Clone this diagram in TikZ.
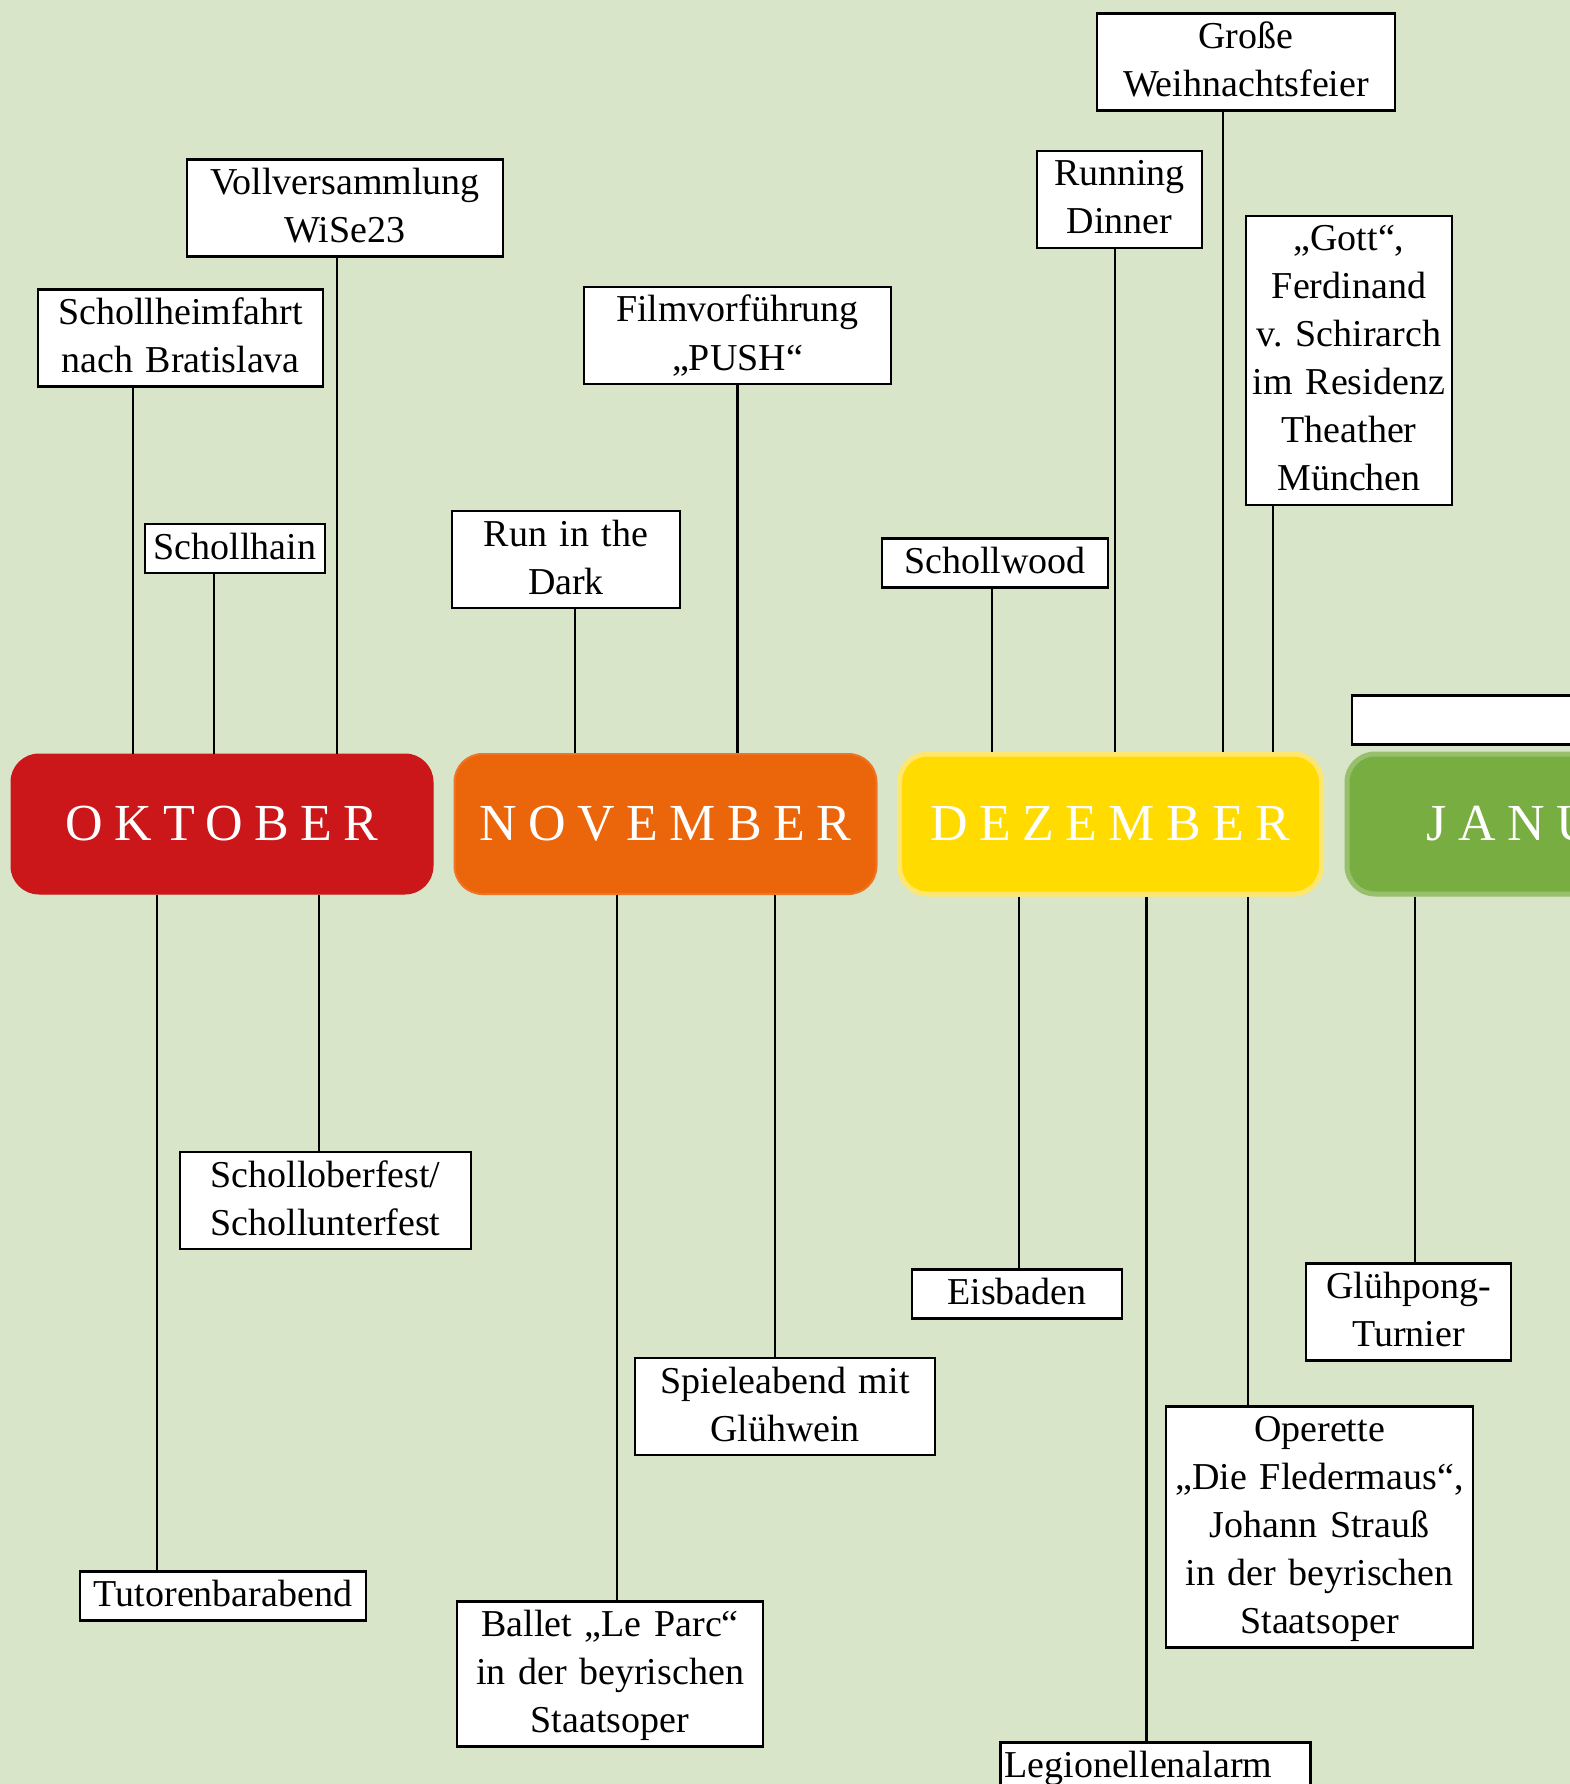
\documentclass[tikz,border=0pt]{standalone}
\usepackage{fontspec}
\setmainfont{Liberation Serif}
\newfontfamily\monthfont[LetterSpace=22]{Liberation Serif}
\usetikzlibrary{positioning}
\definecolor{bggreen}{HTML}{D9E5C9}
\definecolor{oktred}{HTML}{CC171A}
\definecolor{novorange}{HTML}{EB650B}
\definecolor{novedge}{HTML}{EF7424}
\definecolor{dezyellow}{HTML}{FFDB00}
\definecolor{dezedge}{HTML}{FFE66E}
\definecolor{jangreen}{HTML}{78AD42}
\definecolor{janedge}{HTML}{96C06B}
\tikzset{
  ev/.style={draw, fill=white, line width=2.8pt, align=center,
             inner xsep=8pt, inner ysep=0pt,
             font=\fontsize{38}{48}\selectfont,
             execute at begin node={\rule{0pt}{35pt}},
             execute at end node={\rule[-14pt]{0pt}{14pt}}},
  month/.style={rounded corners=28pt, minimum width=422pt, minimum height=140pt,
                text=white, font=\monthfont\fontsize{52}{60}\selectfont},
  ln/.style={line width=2.6pt},
}
\begin{document}
\begin{tikzpicture}[x=1pt, y=-1pt]
  \path[use as bounding box, fill=bggreen] (0,0) rectangle (1570,1784);
  \clip (0,0) rectangle (1570,1784);

  % months
  \node[month, fill=oktred, draw=oktred, line width=1pt] (okt) at (222,824) {OKTOBER};
  \node[month, fill=novorange, draw=novedge, line width=2pt] (nov) at (665.5,824) {NOVEMBER};
  \node[month, fill=dezyellow, draw=dezedge, line width=5pt] (dez) at (1110.5,824) {DEZEMBER};
  \node[month, fill=jangreen, draw=janedge, line width=5pt] (jan) at (1558,824) {JANUAR};

  % events above
  \node[ev, text width=300pt] (vv) at (345,208) {Vollversammlung\\WiSe23};
  \node[ev, text width=269pt] (sb) at (180.5,338) {Schollheimfahrt\\nach Bratislava};
  \node[ev, text width=164pt] (sh) at (235,548.5) {Schollhain};
  \node[ev, text width=212pt] (rd) at (566,559.5) {Run in the\\Dark};
  \node[ev, text width=291pt] (fv) at (737.5,335.5) {Filmvorführung\\„PUSH“};
  \node[ev, text width=210pt] (sw) at (995,563) {Schollwood};
  \node[ev, text width=149pt] (rn) at (1119.5,199.5) {Running\\Dinner};
  \node[ev, text width=282pt] (gw) at (1246,62) {Große\\Weihnachtsfeier};
  \node[ev, inner xsep=2pt, text width=202pt] (gf) at (1349,360.5) {„Gott“,\\Ferdinand\\v.\ Schirarch\\im~Residenz\\Theather\\München};
  \node[ev, text width=404pt, execute at begin node={\rule{0pt}{34pt}}] (jv) at (1562,720) {};

  % events below
  \node[ev, text width=275pt] (so) at (325.5,1200.5) {Scholloberfest/\\Schollunterfest};
  \node[ev, text width=270pt] (tb) at (223,1596) {Tutorenbarabend};
  \node[ev, text width=290pt] (bl) at (610,1674) {Ballet „Le Parc“\\in der beyrischen\\Staatsoper};
  \node[ev, text width=284pt] (sp) at (785,1406.5) {Spieleabend mit\\Glühwein};
  \node[ev, text width=194pt] (eb) at (1017,1294) {Eisbaden};
  \node[ev, text width=291pt] (op) at (1319.5,1527) {Operette\\„Die Fledermaus“,\\Johann Strauß\\in der beyrischen\\Staatsoper};
  \node[ev, text width=189pt] (gp) at (1408.5,1312) {Glühpong-\\Turnier};
  \node[ev, anchor=north west, align=left, inner xsep=4pt, text width=302pt] (la) at (999,1741) {Legionellenalarm};

  % connectors
  \draw[ln] ([xshift=-8]vv.south) -- ([xshift=-8]vv.south |- okt.north);
  \draw[ln] ([xshift=-47.5]sb.south) -- ([xshift=-47.5]sb.south |- okt.north);
  \draw[ln] ([xshift=-21]sh.south) -- ([xshift=-21]sh.south |- okt.north);
  \draw[ln] ([xshift=9]rd.south) -- ([xshift=9]rd.south |- nov.north);
  \draw[ln] (fv.south) -- (fv.south |- nov.north);
  \draw[ln] ([xshift=-3]sw.south) -- ([xshift=-3]sw.south |- dez.north);
  \draw[ln] ([xshift=-4.5]rn.south) -- ([xshift=-4.5]rn.south |- dez.north);
  \draw[ln] ([xshift=-23]gw.south) -- ([xshift=-23]gw.south |- dez.north);
  \draw[ln] ([xshift=-76]gf.south) -- ([xshift=-76]gf.south |- dez.north);
  \draw[ln] ([xshift=-6.5]so.north) -- ([xshift=-6.5]so.north |- okt.south);
  \draw[ln] ([xshift=-66]tb.north) -- ([xshift=-66]tb.north |- okt.south);
  \draw[ln] ([xshift=7]bl.north) -- ([xshift=7]bl.north |- nov.south);
  \draw[ln] ([xshift=-10]sp.north) -- ([xshift=-10]sp.north |- nov.south);
  \draw[ln] ([xshift=2]eb.north) -- ([xshift=2]eb.north |- dez.south);
  \draw[ln] ([xshift=-9]la.north) -- ([xshift=-9]la.north |- dez.south);
  \draw[ln] ([xshift=-71.5]op.north) -- ([xshift=-71.5]op.north |- dez.south);
  \draw[ln] ([xshift=6.5]gp.north) -- ([xshift=6.5]gp.north |- jan.south);
\end{tikzpicture}
\end{document}
